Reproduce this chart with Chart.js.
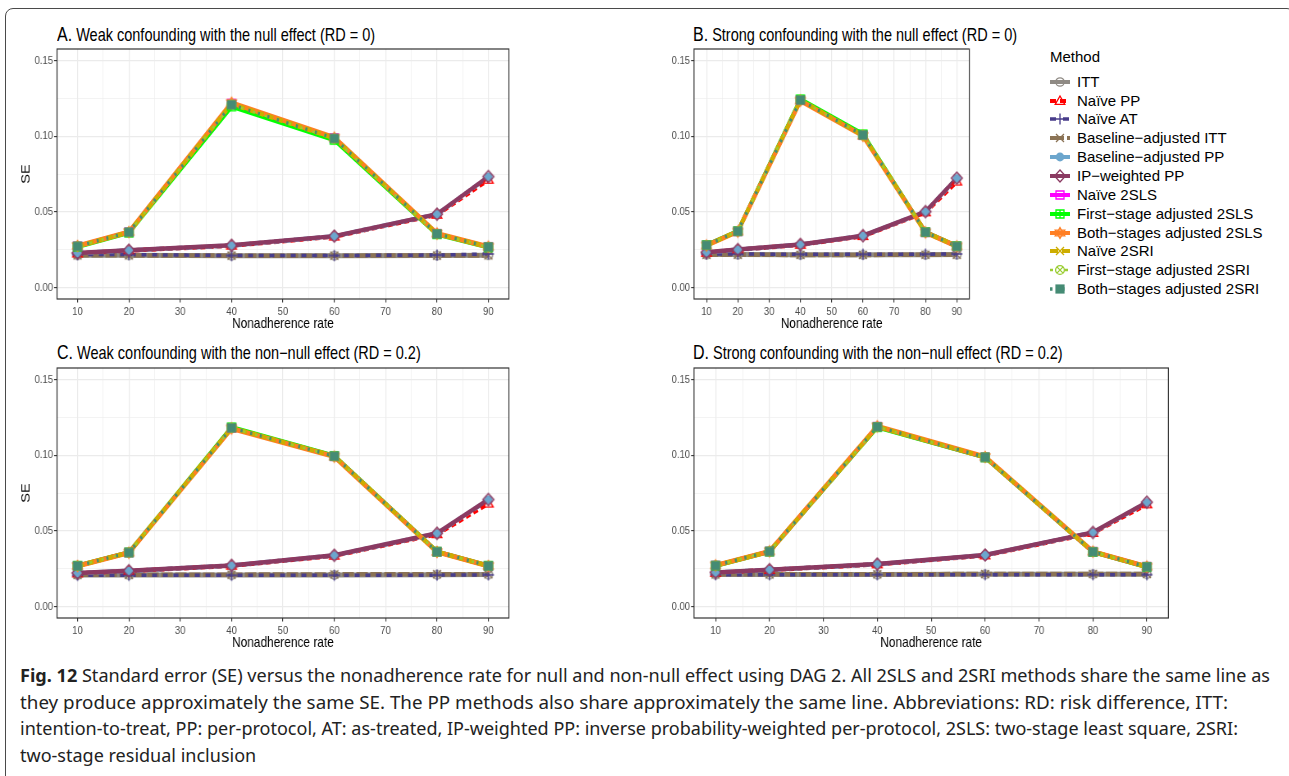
<!DOCTYPE html>
<html>
<head>
<meta charset="utf-8">
<script src="https://cdn.jsdelivr.net/npm/chart.js@4/dist/chart.umd.min.js"></script>
<style>
    body { margin: 0; background: #fff; width: 1289px; height: 776px; overflow: hidden; position: relative; font-family: 'Liberation Sans', Arial, sans-serif; }
    .frame { position: absolute; left: 5px; top: 8px; width: 1290px; height: 800px; border: 1.5px solid #4a4a4a; border-radius: 8px; box-sizing: border-box; }
    /* the panels are drawn wide and squeezed, which gives the narrow lettering of the original */
    canvas.panel { position: absolute; transform: scaleX(0.82); transform-origin: 0 0; }
    .ptitle { position: absolute; font-family: 'Liberation Sans', Arial, sans-serif; font-size: 17.7px; line-height: 20px; color: #000; white-space: nowrap; transform: scaleX(0.82); transform-origin: 0 0; }
    .ptitle span { font-size: 19.5px; }
    .leg-title { position: absolute; left: 1050px; top: 48px; font-size: 15px; line-height: 18px; color: #000; }
    .leg-row { position: absolute; left: 1048px; height: 18px; white-space: nowrap; }
    .leg-row canvas { position: absolute; left: 0; top: 0; }
    .leg-row span { position: absolute; left: 29px; top: 0; font-size: 15px; line-height: 18px; color: #000; }
    .caption { position: absolute; left: 20px; top: 662px; font-family: 'Noto Sans', 'Open Sans', sans-serif; font-size: 18.5px; line-height: 26.7px; color: #222; white-space: nowrap; }
    .caption div { transform-origin: 0 0; width: max-content; }
    .caption b { font-weight: bold; }
</style>
</head>
<body>
<div class="frame"></div>

<div class="ptitle" style="left:57px; top:24px;"><span>A.</span> Weak confounding with the null effect (RD = 0)</div>
<div class="ptitle" style="left:693px; top:24px;"><span>B.</span> Strong confounding with the null effect (RD = 0)</div>
<div class="ptitle" style="left:57px; top:342px;"><span>C.</span> Weak confounding with the non−null effect (RD = 0.2)</div>
<div class="ptitle" style="left:693px; top:342px;"><span>D.</span> Strong confounding with the non−null effect (RD = 0.2)</div>

<canvas class="panel" id="chartA" width="634" height="300" style="left:0px; top:40px;"></canvas>
<canvas class="panel" id="chartB" width="415" height="300" style="left:640px; top:40px;"></canvas>
<canvas class="panel" id="chartC" width="634" height="300" style="left:0px; top:359px;"></canvas>
<canvas class="panel" id="chartD" width="659" height="300" style="left:640px; top:359px;"></canvas>

<div class="leg-title">Method</div>
<div id="legend"></div>

<div class="caption" id="caption">
    <div><b>Fig. 12</b> Standard error (SE) versus the nonadherence rate for null and non-null effect using DAG 2. All 2SLS and 2SRI methods share the same line as</div>
    <div>they produce approximately the same SE. The PP methods also share approximately the same line. Abbreviations: RD: risk difference, ITT:</div>
    <div>intention-to-treat, PP: per-protocol, AT: as-treated, IP-weighted PP: inverse probability-weighted per-protocol, 2SLS: two-stage least square, 2SRI:</div>
    <div>two-stage residual inclusion</div>
</div>

<script>
// ---- data ----
const nonadherence = [10, 20, 40, 60, 80, 90];
const xTicks = [10, 15, 20, 25, 30, 35, 40, 45, 50, 55, 60, 65, 70, 75, 80, 85, 90];
const yTicks = [0, 0.025, 0.05, 0.075, 0.1, 0.125, 0.15];

const methods = [
    'ITT', 'Naïve PP', 'Naïve AT', 'Baseline−adjusted ITT', 'Baseline−adjusted PP', 'IP−weighted PP',
    'Naïve 2SLS', 'First−stage adjusted 2SLS', 'Both−stages adjusted 2SLS',
    'Naïve 2SRI', 'First−stage adjusted 2SRI', 'Both−stages adjusted 2SRI'
];

// one row per method, values at 10, 20, 40, 60, 80, 90
const panelA = [
    [0.0214, 0.0214, 0.0211, 0.0211, 0.0212, 0.0214],
    [0.0225, 0.0245, 0.0277, 0.0337, 0.0481, 0.0712],
    [0.0218, 0.0218, 0.0212, 0.0212, 0.0215, 0.0222],
    [0.0213, 0.0213, 0.0211, 0.0211, 0.0212, 0.0213],
    [0.0228, 0.0246, 0.0278, 0.0339, 0.0484, 0.0731],
    [0.0229, 0.0247, 0.0279, 0.0340, 0.0485, 0.0733],
    [0.0273, 0.0366, 0.1215, 0.0988, 0.0355, 0.0269],
    [0.0270, 0.0362, 0.1195, 0.0974, 0.0352, 0.0266],
    [0.0275, 0.0367, 0.1220, 0.0990, 0.0357, 0.0270],
    [0.0273, 0.0366, 0.1212, 0.0986, 0.0355, 0.0269],
    [0.0272, 0.0365, 0.1208, 0.0983, 0.0354, 0.0268],
    [0.0273, 0.0366, 0.1207, 0.0985, 0.0355, 0.0269]
];
const panelB = [
    [0.0218, 0.0218, 0.0217, 0.0217, 0.0217, 0.0218],
    [0.0230, 0.0250, 0.0283, 0.0340, 0.0497, 0.0700],
    [0.0222, 0.0222, 0.0220, 0.0220, 0.0221, 0.0222],
    [0.0217, 0.0217, 0.0216, 0.0216, 0.0217, 0.0217],
    [0.0232, 0.0251, 0.0284, 0.0342, 0.0501, 0.0721],
    [0.0233, 0.0251, 0.0285, 0.0343, 0.0502, 0.0723],
    [0.0280, 0.0372, 0.1238, 0.1007, 0.0366, 0.0273],
    [0.0281, 0.0373, 0.1244, 0.1013, 0.0367, 0.0274],
    [0.0278, 0.0370, 0.1234, 0.1002, 0.0365, 0.0272],
    [0.0280, 0.0372, 0.1238, 0.1006, 0.0366, 0.0273],
    [0.0280, 0.0372, 0.1237, 0.1005, 0.0366, 0.0273],
    [0.0280, 0.0372, 0.1238, 0.1007, 0.0366, 0.0273]
];
const panelC = [
    [0.0208, 0.0208, 0.0208, 0.0209, 0.0211, 0.0212],
    [0.0219, 0.0235, 0.0270, 0.0336, 0.0478, 0.0680],
    [0.0207, 0.0207, 0.0207, 0.0207, 0.0208, 0.0210],
    [0.0210, 0.0210, 0.0211, 0.0213, 0.0214, 0.0214],
    [0.0221, 0.0236, 0.0271, 0.0338, 0.0483, 0.0705],
    [0.0222, 0.0237, 0.0272, 0.0339, 0.0484, 0.0707],
    [0.0269, 0.0357, 0.1180, 0.0993, 0.0362, 0.0269],
    [0.0270, 0.0358, 0.1184, 0.0995, 0.0363, 0.0270],
    [0.0268, 0.0356, 0.1176, 0.0990, 0.0361, 0.0268],
    [0.0269, 0.0357, 0.1180, 0.0993, 0.0362, 0.0269],
    [0.0269, 0.0357, 0.1179, 0.0992, 0.0362, 0.0269],
    [0.0269, 0.0357, 0.1180, 0.0993, 0.0362, 0.0269]
];
const panelD = [
    [0.0212, 0.0212, 0.0212, 0.0213, 0.0214, 0.0214],
    [0.0223, 0.0242, 0.0279, 0.0338, 0.0486, 0.0675],
    [0.0211, 0.0211, 0.0211, 0.0211, 0.0211, 0.0211],
    [0.0213, 0.0213, 0.0214, 0.0215, 0.0216, 0.0216],
    [0.0225, 0.0243, 0.0280, 0.0340, 0.0489, 0.0687],
    [0.0226, 0.0244, 0.0281, 0.0341, 0.0490, 0.0689],
    [0.0271, 0.0364, 0.1187, 0.0986, 0.0362, 0.0263],
    [0.0270, 0.0363, 0.1184, 0.0985, 0.0361, 0.0262],
    [0.0272, 0.0365, 0.1190, 0.0988, 0.0363, 0.0264],
    [0.0271, 0.0364, 0.1187, 0.0986, 0.0362, 0.0263],
    [0.0271, 0.0364, 0.1186, 0.0985, 0.0362, 0.0263],
    [0.0271, 0.0364, 0.1187, 0.0986, 0.0362, 0.0263]
];

// ---- styles ----
const colors = ['#8f8a84', '#ff0000', '#483d8b', '#8b7355', '#6ca6cd', '#8b3a62',
                '#ff00ff', '#00ff00', '#ff7f24', '#cdad00', '#9acd32', '#458b74'];
const shapes = ['circleOpen', 'triangleOpen', 'plus', 'cross', 'circleFilled', 'diamondOpen',
                'squareOpen', 'squarePlus', 'starDavid', 'cross', 'circleCross', 'squareFilled'];
const dashes = [[], [6, 4], [6, 7], [14, 3], [8, 4], [], [], [], [], [8, 4], [3, 12], [2.5, 9.5]];
const widths = [5, 4.5, 3.5, 4.5, 4.5, 4.5, 4.5, 4.5, 5, 4.5, 2.5, 3.5];
const drawRank = [0, 1, 3, 2, 4, 5, 6, 7, 8, 9, 10, 11];

const SQUISH = 0.82;
const sans = "'Liberation Sans', Arial, sans-serif";

function makeMarker(shape, color, sx) {
    const c = document.createElement('canvas');
    c.width = Math.ceil(16 * sx); c.height = 16;
    const g = c.getContext('2d');
    g.translate(c.width / 2, 8);
    g.scale(sx, 1);
    g.strokeStyle = color;
    g.fillStyle = color;
    g.lineWidth = 1.3;
    g.beginPath();
    switch (shape) {
        case 'circleOpen':
            g.arc(0, 0, 4.2, 0, Math.PI * 2); g.stroke(); break;
        case 'triangleOpen':
            g.moveTo(0, -5); g.lineTo(4.8, 3.4); g.lineTo(-4.8, 3.4); g.closePath(); g.stroke(); break;
        case 'plus':
            g.moveTo(-5.5, 0); g.lineTo(5.5, 0); g.moveTo(0, -5.5); g.lineTo(0, 5.5); g.stroke(); break;
        case 'cross':
            g.moveTo(-4, -4); g.lineTo(4, 4); g.moveTo(4, -4); g.lineTo(-4, 4); g.stroke(); break;
        case 'circleFilled':
            g.arc(0, 0, 4.4, 0, Math.PI * 2); g.fill(); break;
        case 'diamondOpen':
            g.moveTo(0, -6); g.lineTo(5.5, 0); g.lineTo(0, 6); g.lineTo(-5.5, 0); g.closePath(); g.stroke(); break;
        case 'squareOpen':
            g.rect(-4, -4, 8, 8); g.stroke(); break;
        case 'squarePlus':
            g.rect(-4, -4, 8, 8); g.moveTo(-4, 0); g.lineTo(4, 0); g.moveTo(0, -4); g.lineTo(0, 4); g.stroke(); break;
        case 'starDavid':
            g.moveTo(0, -5.5); g.lineTo(4.8, 2.8); g.lineTo(-4.8, 2.8); g.closePath();
            g.moveTo(0, 5.5); g.lineTo(4.8, -2.8); g.lineTo(-4.8, -2.8); g.closePath(); g.stroke(); break;
        case 'circleCross':
            g.arc(0, 0, 4.4, 0, Math.PI * 2);
            g.moveTo(-3.1, -3.1); g.lineTo(3.1, 3.1); g.moveTo(3.1, -3.1); g.lineTo(-3.1, 3.1); g.stroke(); break;
        case 'squareFilled':
            g.rect(-4.6, -4.6, 9.2, 9.2); g.fill(); break;
    }
    return c;
}

// chart markers are pre-widened so they come out right after the squeeze
const plotMarkers = shapes.map((s, i) => makeMarker(s, colors[i], 1 / SQUISH));
const legendMarkers = shapes.map((s, i) => makeMarker(s, colors[i], 1));

// ggplot-like panel border drawn over the data
const panelBorder = {
    id: 'panelBorder',
    afterDatasetsDraw(chart) {
        const a = chart.chartArea;
        const ctx = chart.ctx;
        ctx.save();
        ctx.strokeStyle = '#333333';
        ctx.lineWidth = 1.2;
        ctx.strokeRect(a.left, a.top, a.right - a.left, a.bottom - a.top);
        ctx.restore();
    }
};

function isMajor(v, step) {
    return Math.abs(v / step - Math.round(v / step)) < 1e-6;
}

function buildChart(id, rows, yAxisWidth, rightPad, showYTitle) {
    const datasets = [];
    methods.forEach((name, i) => {
        const pts = nonadherence.map((x, j) => ({ x: x, y: rows[i][j] }));
        datasets.push({
            label: name,
            data: pts,
            borderColor: colors[i],
            borderWidth: widths[i],
            borderDash: dashes[i],
            pointRadius: 0,
            fill: false,
            tension: 0,
            order: 100 - drawRank[i]
        });
        datasets.push({
            label: name + ' (points)',
            data: pts,
            showLine: false,
            pointStyle: plotMarkers[i],
            pointRadius: 4,
            order: 50 - drawRank[i]
        });
    });

    const gridOpts = (step) => ({
        color: '#ebebeb',
        lineWidth: ctx => isMajor(ctx.tick.value, step) ? 1.2 : 0.6,
        tickColor: ctx => isMajor(ctx.tick.value, step) ? '#333333' : 'rgba(0,0,0,0)',
        tickLength: 3.6,
        tickWidth: 1.1
    });

    return new Chart(document.getElementById(id), {
        type: 'line',
        data: { datasets: datasets },
        options: {
            responsive: false,
            animation: false,
            devicePixelRatio: 1,
            layout: { padding: { left: 0, top: 9, right: rightPad / SQUISH, bottom: 5 } },
            plugins: { legend: { display: false }, tooltip: { enabled: false } },
            scales: {
                x: {
                    type: 'linear',
                    min: 6,
                    max: 94,
                    afterBuildTicks: axis => { axis.ticks = xTicks.map(v => ({ value: v })); },
                    afterFit: axis => { axis.height = 36; },
                    grid: gridOpts(10),
                    border: { display: false },
                    ticks: {
                        autoSkip: false,
                        maxRotation: 0,
                        padding: 2,
                        color: '#4d4d4d',
                        font: { family: sans, size: 11.6 },
                        callback: v => isMajor(v, 10) ? String(v) : ''
                    },
                    title: {
                        display: true,
                        text: 'Nonadherence rate',
                        color: '#000',
                        font: { family: sans, size: 14.5 },
                        padding: { top: 0, bottom: 2 }
                    }
                },
                y: {
                    type: 'linear',
                    min: -0.0075,
                    max: 0.1575,
                    afterBuildTicks: axis => { axis.ticks = yTicks.map(v => ({ value: v })); },
                    afterFit: axis => { axis.width = yAxisWidth / SQUISH; },
                    grid: gridOpts(0.05),
                    border: { display: false },
                    ticks: {
                        autoSkip: false,
                        padding: 1.2,
                        color: '#4d4d4d',
                        font: { family: sans, size: 11.6 },
                        callback: v => isMajor(v, 0.05) ? v.toFixed(2) : ''
                    },
                    title: {
                        display: showYTitle,
                        text: 'SE',
                        color: '#000',
                        font: { family: sans, size: 14.5 },
                        padding: { top: 23, bottom: 0 }
                    }
                }
            }
        },
        plugins: [panelBorder]
    });
}

buildChart('chartA', panelA, 57, 11, true);
buildChart('chartB', panelB, 54, 11, false);
buildChart('chartC', panelC, 57, 11, true);
buildChart('chartD', panelD, 54, 12, false);

// ---- legend ----
const legend = document.getElementById('legend');
methods.forEach((name, i) => {
    const row = document.createElement('div');
    row.className = 'leg-row';
    row.style.top = (72.7 + i * 18.85) + 'px';
    const c = document.createElement('canvas');
    c.width = 24; c.height = 18;
    const g = c.getContext('2d');
    g.strokeStyle = colors[i];
    g.lineWidth = Math.min(widths[i], 4);
    g.setLineDash(dashes[i]);
    g.beginPath();
    g.moveTo(2, 9); g.lineTo(22, 9);
    g.stroke();
    g.setLineDash([]);
    g.drawImage(legendMarkers[i], 12 - 8, 9 - 8);
    row.appendChild(c);
    const s = document.createElement('span');
    s.textContent = name;
    row.appendChild(s);
    legend.appendChild(row);
});

// ---- caption: fit each line to the width it has in the original ----
const captionWidths = [1250, 1208, 1218, 0];
const captionLines = document.querySelectorAll('#caption div');
let lastScale = 1;
captionLines.forEach((line, i) => {
    const w = line.getBoundingClientRect().width;
    const s = captionWidths[i] ? captionWidths[i] / w : lastScale;
    line.style.transform = 'scaleX(' + s + ')';
    lastScale = s;
});
</script>
</body>
</html>
